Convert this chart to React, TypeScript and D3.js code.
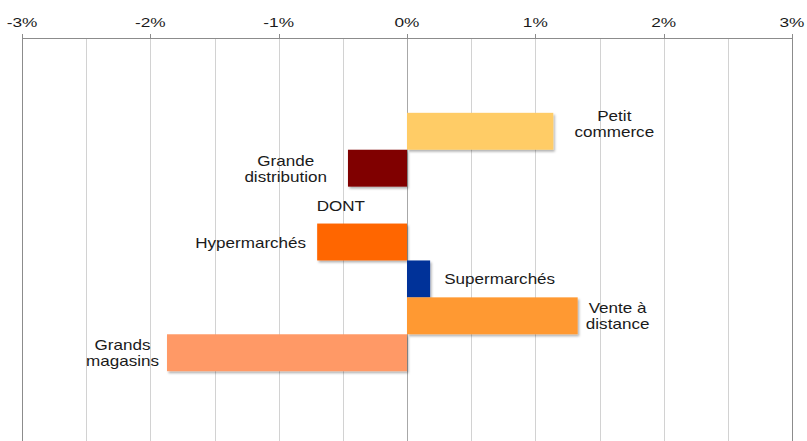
import React, { useRef, useEffect } from "react"
import * as d3 from "d3"

// category slots (empty slots keep the spacing of the original chart)
const slots = ["s0", "s1", "petit", "grande", "dont", "hyper", "super", "vente", "grands", "s9", "s10"]
const slotLabels: string[][] = [
  [], [],
  ["Petit", "commerce"],
  ["Grande", "distribution"],
  ["DONT"],
  ["Hypermarchés"],
  ["Supermarchés"],
  ["Vente à", "distance"],
  ["Grands", "magasins"],
  [], [],
]
const slotValues: (number | null)[] = [null, null, 1.14, -0.46, null, -0.70, 0.18, 1.33, -1.87, null, null]
const slotColors = ["", "", "#FFCC66", "#800000", "", "#FF6600", "#003399", "#FF9933", "#FF9966", "", ""]

const tickValues = [-3, -2, -1, 0, 1, 2, 3]
const tickLabels = ["-3%", "-2%", "-1%", "0%", "1%", "2%", "3%"]

// label layout tweaks (px)
const labelGap = [0, 0, 21, 21, 0, 11, 14, 8, 8, 0, 0]
const labelDy = [0, 0, -8, 0, 0, 0, 0, 0, 0, 0, 0]

const W = 807
const H = 441

const App: React.FC = () => {
  const svgRef = useRef<SVGSVGElement>(null)

  useEffect(() => {
    const svg = d3.select(svgRef.current)
    svg.selectAll("*").remove()

    const x = d3.scaleLinear().domain([-3, 3]).range([22, 792])
    const y = d3.scaleBand<string>().domain(slots).range([39, 445]).padding(0)

    const defs = svg.append("defs")
    const f = defs.append("filter").attr("id", "shadow")
      .attr("x", "-10%").attr("y", "-20%").attr("width", "130%").attr("height", "160%")
    f.append("feDropShadow")
      .attr("dx", 1.5).attr("dy", 2).attr("stdDeviation", 1.2)
      .attr("flood-color", "#000").attr("flood-opacity", 0.3)

    // gridlines
    const grid = d3.range(-3, 3.01, 0.5)
    svg.append("g").selectAll("line")
      .data(grid)
      .enter().append("line")
      .attr("x1", d => Math.round(x(d)) + 0.5)
      .attr("x2", d => Math.round(x(d)) + 0.5)
      .attr("y1", 38)
      .attr("y2", H)
      .attr("stroke", d => (d === -3 || d === 3) ? "#8c8c8c" : d === 0 ? "#a8a8a8" : "#d2d2d2")
      .attr("stroke-width", 1)

    // axis line + ticks
    svg.append("line")
      .attr("x1", x(-3)).attr("x2", x(3) + 0.5)
      .attr("y1", 38.5).attr("y2", 38.5)
      .attr("stroke", "#8c8c8c")
    svg.append("g").selectAll("line")
      .data(tickValues)
      .enter().append("line")
      .attr("x1", d => Math.round(x(d)) + 0.5)
      .attr("x2", d => Math.round(x(d)) + 0.5)
      .attr("y1", 34).attr("y2", 38)
      .attr("stroke", "#8c8c8c")

    svg.append("g").selectAll("text")
      .data(tickValues)
      .enter().append("text")
      .attr("transform", d => `translate(${x(d)},27) scale(1.33,1)`)
      .attr("text-anchor", "middle")
      .attr("font-family", "'Liberation Sans', Arial, sans-serif")
      .attr("font-size", 13)
      .attr("fill", "#1a1a1a")
      .text((d, i) => tickLabels[i])

    // bars
    const barIdx = slots.map((s, i) => i).filter(i => slotValues[i] !== null)
    svg.append("g").selectAll("rect")
      .data(barIdx)
      .enter().append("rect")
      .attr("x", i => x(Math.min(0, slotValues[i] as number)))
      .attr("y", i => y(slots[i]) as number)
      .attr("width", i => Math.abs(x(slotValues[i] as number) - x(0)))
      .attr("height", y.bandwidth())
      .attr("fill", i => slotColors[i])
      .attr("filter", "url(#shadow)")

    // labels
    const sx = 1.22
    const lineH = 16
    slots.forEach((s, i) => {
      const lines = slotLabels[i]
      if (!lines.length) return
      const cy = (y(s) as number) + y.bandwidth() / 2 + labelDy[i]
      const g = svg.append("g")
      const t = g.append("text")
        .attr("text-anchor", "middle")
        .attr("font-family", "'Liberation Sans', Arial, sans-serif")
        .attr("font-size", 14)
        .attr("fill", "#1a1a1a")
      lines.forEach((ln, k) => {
        t.append("tspan")
          .attr("x", 0)
          .attr("y", 5.5 + (k - (lines.length - 1) / 2) * lineH)
          .text(ln)
      })
      const w = ((t.node() as SVGTextElement).getBBox().width) * sx
      const v = slotValues[i]
      let cx: number
      if (v === null) cx = x(-0.5) - 2
      else if (v >= 0) cx = x(v) + labelGap[i] + w / 2
      else cx = x(v) - labelGap[i] - w / 2
      g.attr("transform", `translate(${cx},${cy}) scale(${sx},1)`)
    })
  }, [])

  return (
    <svg
      ref={svgRef}
      width={W}
      height={H}
      style={{ position: "absolute", left: 0, top: 0, background: "#fff" }}
    />
  )
}

export default App
